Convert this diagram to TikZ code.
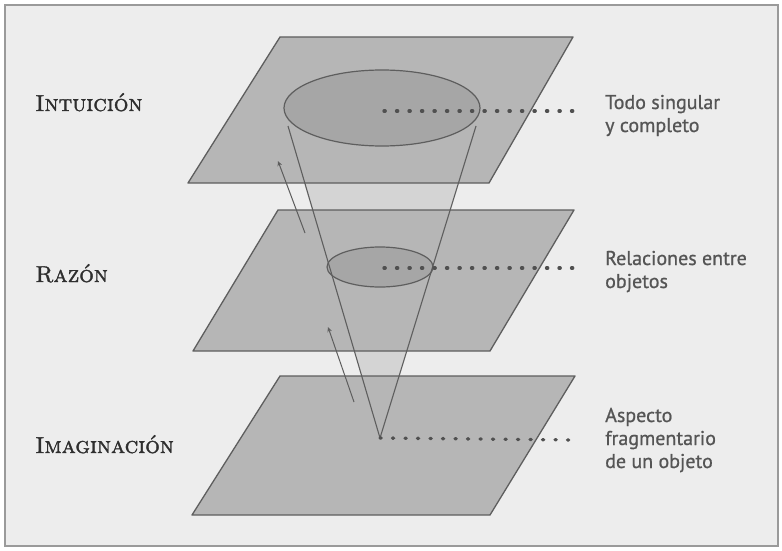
\documentclass[tikz,border=0pt]{standalone}
\usepackage{fontspec}
\newfontfamily\labelfont{PT Sans}[FakeBold=0.8]
\newfontfamily\levelfont{lmroman10-regular.otf}[SmallCapsFont=lmromancaps10-regular.otf, FakeBold=1.5, SmallCapsFeatures={FakeBold=1.5}]
\usetikzlibrary{arrows.meta}
\definecolor{bg}{HTML}{EDEDED}
\definecolor{framegray}{HTML}{9A9A9A}
\definecolor{planegray}{HTML}{B6B6B6}
\definecolor{planeedge}{HTML}{5E5E5E}
\definecolor{ellgray}{HTML}{A6A6A6}
\definecolor{conegray}{HTML}{D4D4D4}
\definecolor{dotgray}{HTML}{505050}
\definecolor{txtgray}{HTML}{555555}
\definecolor{serifgray}{HTML}{2E2E2E}
\tikzset{
  plane/.style={fill=planegray, draw=planeedge, line width=1.3pt, line join=round},
  ell/.style={fill=ellgray, draw=planeedge, line width=1.2pt},
  coneline/.style={draw=planeedge, line width=1.1pt},
  dotline/.style={draw=dotgray, line width=3.3pt, line cap=round, dash pattern=on 1.2pt off 11.3pt},
  uparrow/.style={draw=planeedge, line width=1pt, -{Stealth[length=5pt,width=4.5pt]}},
  levellabel/.style={anchor=base west, text=serifgray, inner sep=0pt, font=\levelfont\fontsize{23}{27}\selectfont},
  desclabel/.style={anchor=base west, text=txtgray, inner sep=0pt, align=left, font=\labelfont\fontsize{20}{23}\selectfont}
}
\begin{document}
\begin{tikzpicture}[x=1pt,y=-1pt]
\useasboundingbox (0,0) rectangle (782,551);
\fill[white] (0,0) rectangle (782,551);
\draw[fill=bg, draw=framegray, line width=2pt] (5,5) rectangle (778,546);

% coordinates
\coordinate (apex) at (380,438);
\coordinate (topL) at (283,112);
\coordinate (topR) at (480,112);

% cone fill (visible in gaps)
\fill[conegray] (apex) -- (topL) -- (topR) -- cycle;

% planes
\draw[plane] (280,37) -- (573,37) -- (489,183) -- (188,183) -- cycle;
\draw[plane] (278,210) -- (574,210) -- (490,351) -- (193,351) -- cycle;
\draw[plane] (280,376) -- (575,376) -- (490,515) -- (192,515) -- cycle;

% ellipses
\draw[ell] (382,108) ellipse [x radius=98, y radius=38];
\draw[ell] (380,267) ellipse [x radius=53, y radius=20];

% cone lines
\draw[coneline] (288,126) -- (apex) -- (476,126);

% arrows
\coordinate (a1s) at (305,233);
\coordinate (a1e) at (278,161);
\coordinate (a2s) at (354,402);
\coordinate (a2e) at (328,327);
\draw[uparrow] (a1s) -- (a1e);
\draw[uparrow] (a2s) -- (a2e);

% labels
\node[levellabel] (int) at (35,111) {\textsc{Intuición}};
\node[levellabel] (raz) at (35,282) {\textsc{Razón}};
\node[levellabel] (ima) at (35,453) {\textsc{Imaginación}};

% (base anchor of a multi-line node = baseline of its last line)
\node[desclabel] (d1) at (605,132) {Todo singular\\y completo};
\node[desclabel] (d2) at (605,288) {Relaciones entre\\objetos};
\node[desclabel] (d3) at (605,468) {Aspecto\\fragmentario\\de un objeto};

% dotted leaders
\coordinate (e1) at (577,111);
\coordinate (e2) at (577,268);
\coordinate (e3) at (577,440);
\draw[dotline] (384,111) -- (e1);
\draw[dotline] (384,268) -- (e2);
\draw[dotline] (apex) -- (e3);
\end{tikzpicture}
\end{document}
